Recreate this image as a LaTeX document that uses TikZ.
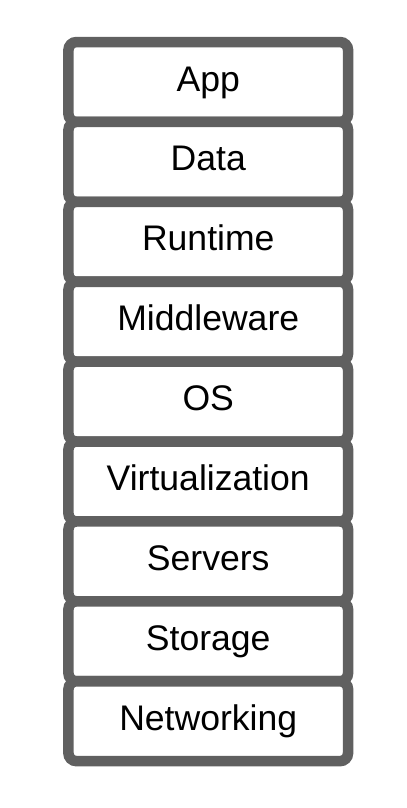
\documentclass[tikz,border=0pt]{standalone}
\usepackage{fontspec}
\setmainfont{Liberation Sans}
\usetikzlibrary{positioning}

\definecolor{layergray}{RGB}{96,96,96}

\tikzset{
  layer/.style={draw=layergray, line width=7.5pt, rounded corners=0.2cm,
    fill=white, minimum width=6.99cm, minimum height=1.9975cm,
    outer sep=0pt, inner sep=0pt, text height=0.67cm, text depth=0.22cm,
    font=\fontsize{25.3}{30}\selectfont}
}

\begin{document}
\begin{tikzpicture}
  % page frame
  \useasboundingbox (0,0) rectangle (10.15,-20.2);

  % the stack, top to bottom
  \node[layer] (app) at (5.206,-2.05) {App};
  \node[layer, below=0pt of app] (data) {Data};
  \node[layer, below=0pt of data] (runtime) {Runtime};
  \node[layer, below=0pt of runtime] (middleware) {Middleware};
  \node[layer, below=0pt of middleware] (os) {OS};
  \node[layer, below=0pt of os] (virt) {Virtualization};
  \node[layer, below=0pt of virt] (servers) {Servers};
  \node[layer, below=0pt of servers] (storage) {Storage};
  \node[layer, below=0pt of storage] (networking) {Networking};
\end{tikzpicture}
\end{document}
